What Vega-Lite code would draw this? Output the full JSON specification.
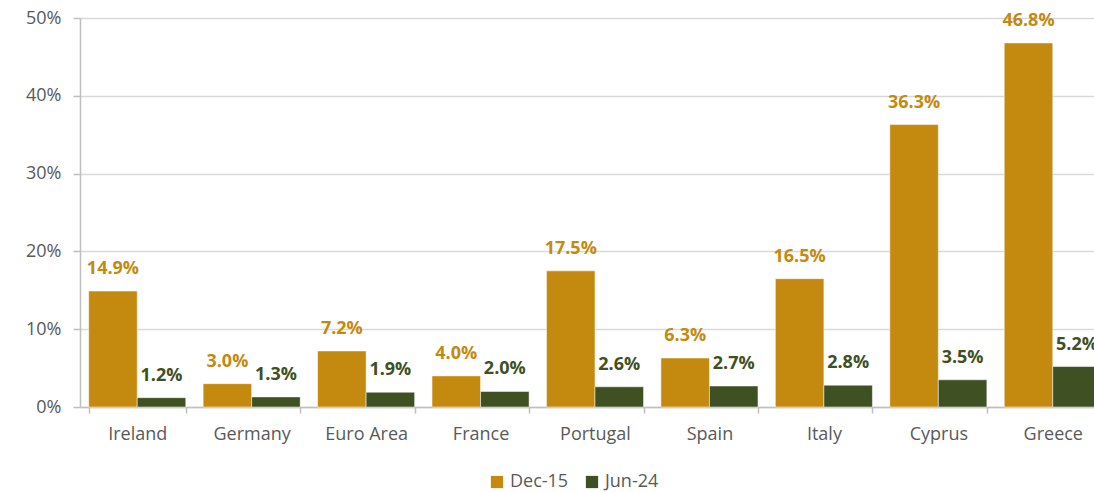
{
  "$schema": "https://vega.github.io/schema/vega-lite/v6.json",
  "autosize": {"type": "none"},
  "width": 1030,
  "height": 389,
  "padding": {"left": 80, "top": 18, "right": 0, "bottom": 85},
  "background": "white",
  "config": {
    "font": "Open Sans",
    "view": {"stroke": null}
  },
  "data": {
    "values": [
      {"country": "Ireland", "series": "Dec-15", "value": 0.149},
      {"country": "Ireland", "series": "Jun-24", "value": 0.012},
      {"country": "Germany", "series": "Dec-15", "value": 0.030},
      {"country": "Germany", "series": "Jun-24", "value": 0.013},
      {"country": "Euro Area", "series": "Dec-15", "value": 0.072},
      {"country": "Euro Area", "series": "Jun-24", "value": 0.019},
      {"country": "France", "series": "Dec-15", "value": 0.040},
      {"country": "France", "series": "Jun-24", "value": 0.020},
      {"country": "Portugal", "series": "Dec-15", "value": 0.175},
      {"country": "Portugal", "series": "Jun-24", "value": 0.026},
      {"country": "Spain", "series": "Dec-15", "value": 0.063},
      {"country": "Spain", "series": "Jun-24", "value": 0.027},
      {"country": "Italy", "series": "Dec-15", "value": 0.165},
      {"country": "Italy", "series": "Jun-24", "value": 0.028},
      {"country": "Cyprus", "series": "Dec-15", "value": 0.363},
      {"country": "Cyprus", "series": "Jun-24", "value": 0.035},
      {"country": "Greece", "series": "Dec-15", "value": 0.468},
      {"country": "Greece", "series": "Jun-24", "value": 0.052}
    ]
  },
  "encoding": {
    "x": {
      "field": "country",
      "type": "nominal",
      "sort": null,
      "scale": {"paddingInner": 0.152, "paddingOuter": 0.076},
      "axis": {
        "title": null,
        "labelAngle": 0,
        "labelFontSize": 18,
        "labelColor": "#595959",
        "labelPadding": 12,
        "domainColor": "#bfbfbf",
        "domainWidth": 1.5,
        "tickColor": "#bfbfbf",
        "tickBand": "extent",
        "tickSize": 6,
        "tickWidth": 1.5
      }
    },
    "xOffset": {"field": "series", "type": "nominal", "scale": {"paddingInner": 0}},
    "y": {
      "field": "value",
      "type": "quantitative",
      "scale": {"domain": [0, 0.5], "nice": false},
      "axis": {
        "title": null,
        "format": ".0%",
        "values": [0, 0.1, 0.2, 0.3, 0.4, 0.5],
        "labelFontSize": 18,
        "labelColor": "#595959",
        "labelPadding": 12,
        "gridColor": "#d9d9d9",
        "gridWidth": 1.5,
        "domain": true,
        "domainColor": "#bfbfbf",
        "domainWidth": 1.5,
        "tickColor": "#bfbfbf",
        "tickSize": 7,
        "tickWidth": 1.5
      }
    }
  },
  "layer": [
    {
      "mark": {"type": "bar", "stroke": "white", "strokeWidth": 0.5},
      "encoding": {
        "color": {
          "field": "series",
          "type": "nominal",
          "scale": {"domain": ["Dec-15", "Jun-24"], "range": ["#c48a10", "#3f5022"]},
          "legend": {
            "title": null,
            "orient": "none",
            "direction": "horizontal",
            "legendX": 408,
            "legendY": 455,
            "symbolType": "square",
            "symbolSize": 150,
            "symbolStrokeWidth": 0,
            "labelFontSize": 18,
            "labelColor": "#595959",
            "columnPadding": 14,
            "labelOffset": 4
          }
        }
      }
    },
    {
      "mark": {"type": "text", "fontSize": 18, "fontWeight": "bold", "baseline": "bottom", "dy": -13},
      "encoding": {
        "text": {"field": "value", "type": "quantitative", "format": ".1%"},
        "color": {"field": "series", "type": "nominal", "legend": null}
      }
    }
  ]
}
